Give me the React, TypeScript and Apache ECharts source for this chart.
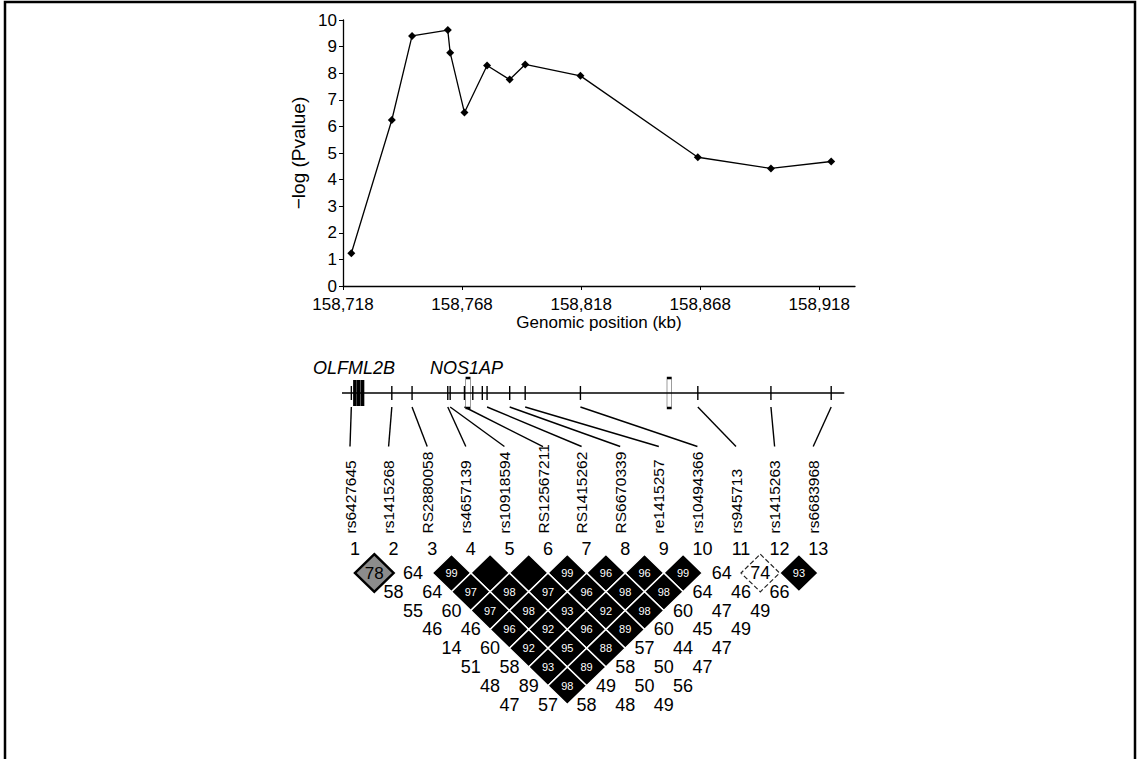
import React, { useEffect, useRef } from "react";
import * as echarts from "echarts";

// ---------- data ----------
const snpNames = [
  "rs6427645", "rs1415268", "RS2880058", "rs4657139", "rs10918594", "RS12567211",
  "RS1415262", "RS6670339", "re1415257", "rs10494366", "rs945713", "rs1415263", "rs6683968",
];
const snpPositionsKb = [
  158721.5, 158738.5, 158747, 158762, 158763, 158769, 158778.5, 158788, 158794.5,
  158817.7, 158867, 158897.7, 158923,
];
const negLogP = [1.23, 6.24, 9.4, 9.62, 8.77, 6.52, 8.29, 7.76, 8.33, 7.9, 4.84, 4.42, 4.68];
const xTickValues = [158718, 158768, 158818, 158868, 158918];
const xMin = 158718;
const xMax = 158933;

// gene diagram features (kb)
const geneLineExtent = [158713.8, 158928.5];
const olfml2bExons = [158723, 158724.6, 158726.2];
const nos1apOpenExons = [158770.5, 158855];
const extraTicks = [158772.5, 158776.5];

// LD (D') rows by marker distance 1..8
const ldRows = [
  [78, 64, 99, 100, 100, 99, 96, 96, 99, 64, 74, 93],
  [58, 64, 97, 98, 97, 96, 98, 98, 64, 46, 66],
  [55, 60, 97, 98, 93, 92, 98, 60, 47, 49],
  [46, 46, 96, 92, 96, 89, 60, 45, 49],
  [14, 60, 92, 95, 88, 57, 44, 47],
  [51, 58, 93, 89, 58, 50, 47],
  [48, 89, 98, 49, 50, 56],
  [47, 57, 58, 48, 49],
];
const ldShades = [
  "gwbbbbbbbwdb",
  "wwbbbbbbwww",
  "wwbbbbbwww",
  "wwbbbbwww",
  "wwbbbwww",
  "wwbbwww",
  "wwbwww",
  "wwwww",
];

// ---------- layout ----------
const FONT = "'Liberation Sans', Arial, Helvetica, sans-serif";
const PLOT = { left: 343, top: 20, width: 512, height: 266 };
const GENE = { left: 343, top: 378, width: 512, height: 30 };
const CELL_W = 38.6;
const CELL_H = 18.8;
const LD = { left: 355, top: 573 - 2 * CELL_H, width: 12 * CELL_W, height: 9 * CELL_H };

const fmt = (v: number) => String(Math.round(v)).replace(/\B(?=(\d{3})+(?!\d))/g, ",");

export default function App() {
  const ref = useRef<HTMLDivElement>(null);

  useEffect(() => {
    const chart = echarts.init(ref.current!, null, { renderer: "svg" });

    const ldData: any[] = [];
    ldRows.forEach((row, r) => {
      const k = r + 1;
      row.forEach((v, idx) => {
        const i = idx + 1;
        const j = i + k;
        const sh = ldShades[r][idx];
        let itemStyle: any;
        let label: any;
        if (sh === "b") {
          itemStyle = { color: "#000", borderColor: "#fff", borderWidth: 1.5, opacity: 1 };
          label = { show: v < 100, formatter: String(v), color: "#fff", fontSize: 11, fontFamily: FONT };
        } else if (sh === "g") {
          itemStyle = { color: "#8c8c8c", borderColor: "#000", borderWidth: 2.5, opacity: 1 };
          label = { show: true, formatter: String(v), color: "#000", fontSize: 17, fontFamily: FONT };
        } else if (sh === "d") {
          itemStyle = { color: "rgba(0,0,0,0)", borderColor: "#222", borderWidth: 1.2, borderType: "dashed", opacity: 1 };
          label = { show: true, formatter: String(v), color: "#000", fontSize: 18, fontFamily: FONT };
        } else {
          itemStyle = { color: "rgba(0,0,0,0)", borderWidth: 0, opacity: 1 };
          label = { show: true, formatter: String(v), color: "#000", fontSize: 18, fontFamily: FONT };
        }
        ldData.push({ value: [(i + j) / 2, k, v], itemStyle, label });
      });
    });

    const option: any = {
      animation: false,
      backgroundColor: "#fff",
      grid: [
        { ...PLOT },
        { ...GENE },
        { ...LD },
      ],
      xAxis: [
        {
          type: "value",
          gridIndex: 0,
          min: xMin,
          max: xMax,
          splitLine: { show: false },
          axisLine: { show: true, onZero: false, lineStyle: { color: "#000", width: 1.3 } },
          axisTick: { show: true, length: 4, customValues: xTickValues, lineStyle: { color: "#000" } },
          axisLabel: {
            customValues: xTickValues,
            formatter: (v: number) => fmt(v),
            color: "#000",
            fontSize: 17,
            fontFamily: FONT,
            margin: 10,
          },
          name: "Genomic position (kb)",
          nameLocation: "middle",
          nameGap: 26,
          nameTextStyle: { color: "#000", fontSize: 17, fontFamily: FONT },
        },
        { type: "value", gridIndex: 1, min: xMin, max: xMax, show: false },
        { type: "value", gridIndex: 2, min: 1, max: 13, show: false },
      ],
      yAxis: [
        {
          type: "value",
          gridIndex: 0,
          min: 0,
          max: 10,
          interval: 1,
          splitLine: { show: false },
          axisLine: { show: true, onZero: false, lineStyle: { color: "#000", width: 1.3 } },
          axisTick: { show: true, length: 4, lineStyle: { color: "#000" } },
          axisLabel: { color: "#000", fontSize: 17, fontFamily: FONT, margin: 6 },
          name: "\u2212log (Pvalue)",
          nameLocation: "middle",
          nameRotate: 90,
          nameGap: 35,
          nameTextStyle: { color: "#000", fontSize: 19, fontFamily: FONT },
        },
        { type: "value", gridIndex: 1, min: 0, max: 1, show: false },
        { type: "value", gridIndex: 2, min: -1, max: 8, inverse: true, show: false },
      ],
      series: [
        {
          type: "line",
          xAxisIndex: 0,
          yAxisIndex: 0,
          data: snpPositionsKb.map((x, i) => [x, negLogP[i]]),
          symbol: "diamond",
          symbolSize: 8,
          itemStyle: { color: "#000" },
          lineStyle: { color: "#000", width: 1.3 },
          clip: false,
        },
        {
          type: "line",
          xAxisIndex: 1,
          yAxisIndex: 1,
          data: geneLineExtent.map((x) => [x, 0.5]),
          symbol: "none",
          lineStyle: { color: "#000", width: 1.6 },
          clip: false,
        },
        {
          type: "scatter",
          xAxisIndex: 1,
          yAxisIndex: 1,
          data: snpPositionsKb.concat(extraTicks).map((x) => [x, 0.5]),
          symbol: "rect",
          symbolSize: [1.4, 14],
          itemStyle: { color: "#000", opacity: 1 },
          clip: false,
        },
        {
          type: "scatter",
          xAxisIndex: 1,
          yAxisIndex: 1,
          data: olfml2bExons.map((x) => [x, 0.5]),
          symbol: "rect",
          symbolSize: [3.6, 26],
          itemStyle: { color: "#000", opacity: 1 },
          clip: false,
        },
        {
          type: "scatter",
          xAxisIndex: 1,
          yAxisIndex: 1,
          data: nos1apOpenExons.map((x) => [x, 0.5]),
          symbol: "rect",
          symbolSize: [4.5, 30],
          itemStyle: { color: "#fff", borderColor: "#000", borderWidth: 1, opacity: 1 },
          clip: false,
        },
        {
          type: "scatter",
          xAxisIndex: 2,
          yAxisIndex: 2,
          data: ldData,
          symbol: "diamond",
          symbolSize: [CELL_W, CELL_H * 2],
          itemStyle: { opacity: 1 },
          label: { position: "inside" },
          clip: false,
        },
      ],
    };
    chart.setOption(option);

    // annotations placed through the axes' scales
    const g: any[] = [];
    g.push({
      type: "polyline",
      shape: { points: [[5, 760], [5, 2], [1135, 2], [1135, 760]] },
      style: { stroke: "#000", lineWidth: 2.5, fill: null },
    });
    const geneY = (chart.convertToPixel({ gridIndex: 1 }, [xMin, 0.5]) as number[])[1];
    g.push({
      type: "text",
      x: 313,
      y: geneY - 25,
      style: { text: "OLFML2B", font: `italic 18px ${FONT}`, fill: "#000", textAlign: "left", textVerticalAlign: "middle" },
    });
    g.push({
      type: "text",
      x: 430,
      y: geneY - 25,
      style: { text: "NOS1AP", font: `italic 18px ${FONT}`, fill: "#000", textAlign: "left", textVerticalAlign: "middle" },
    });
    snpNames.forEach((name, idx) => {
      const i = idx + 1;
      const gp = chart.convertToPixel({ gridIndex: 1 }, [snpPositionsKb[idx], 0.5]) as number[];
      const lp = chart.convertToPixel({ gridIndex: 2 }, [i, -1.1]) as number[];
      const np = chart.convertToPixel({ gridIndex: 2 }, [i, -0.3]) as number[];
      const lx = lp[0] - 5;
      g.push({
        type: "line",
        shape: { x1: gp[0], y1: gp[1] + 14, x2: lx, y2: lp[1] - 87 },
        style: { stroke: "#000", lineWidth: 1.4 },
      });
      g.push({
        type: "text",
        x: lx,
        y: lp[1],
        rotation: Math.PI / 2,
        style: { text: name, font: `15.5px ${FONT}`, fill: "#000", textAlign: "left", textVerticalAlign: "middle" },
      });
      g.push({
        type: "text",
        x: np[0],
        y: np[1],
        style: { text: String(i), font: `18px ${FONT}`, fill: "#000", textAlign: "center", textVerticalAlign: "middle" },
      });
    });
    chart.setOption({ graphic: { elements: g } });

    return () => chart.dispose();
  }, []);

  return (
    <div
      ref={ref}
      style={{ position: "absolute", left: 0, top: 0, width: 1138, height: 759, background: "#fff" }}
    />
  );
}
